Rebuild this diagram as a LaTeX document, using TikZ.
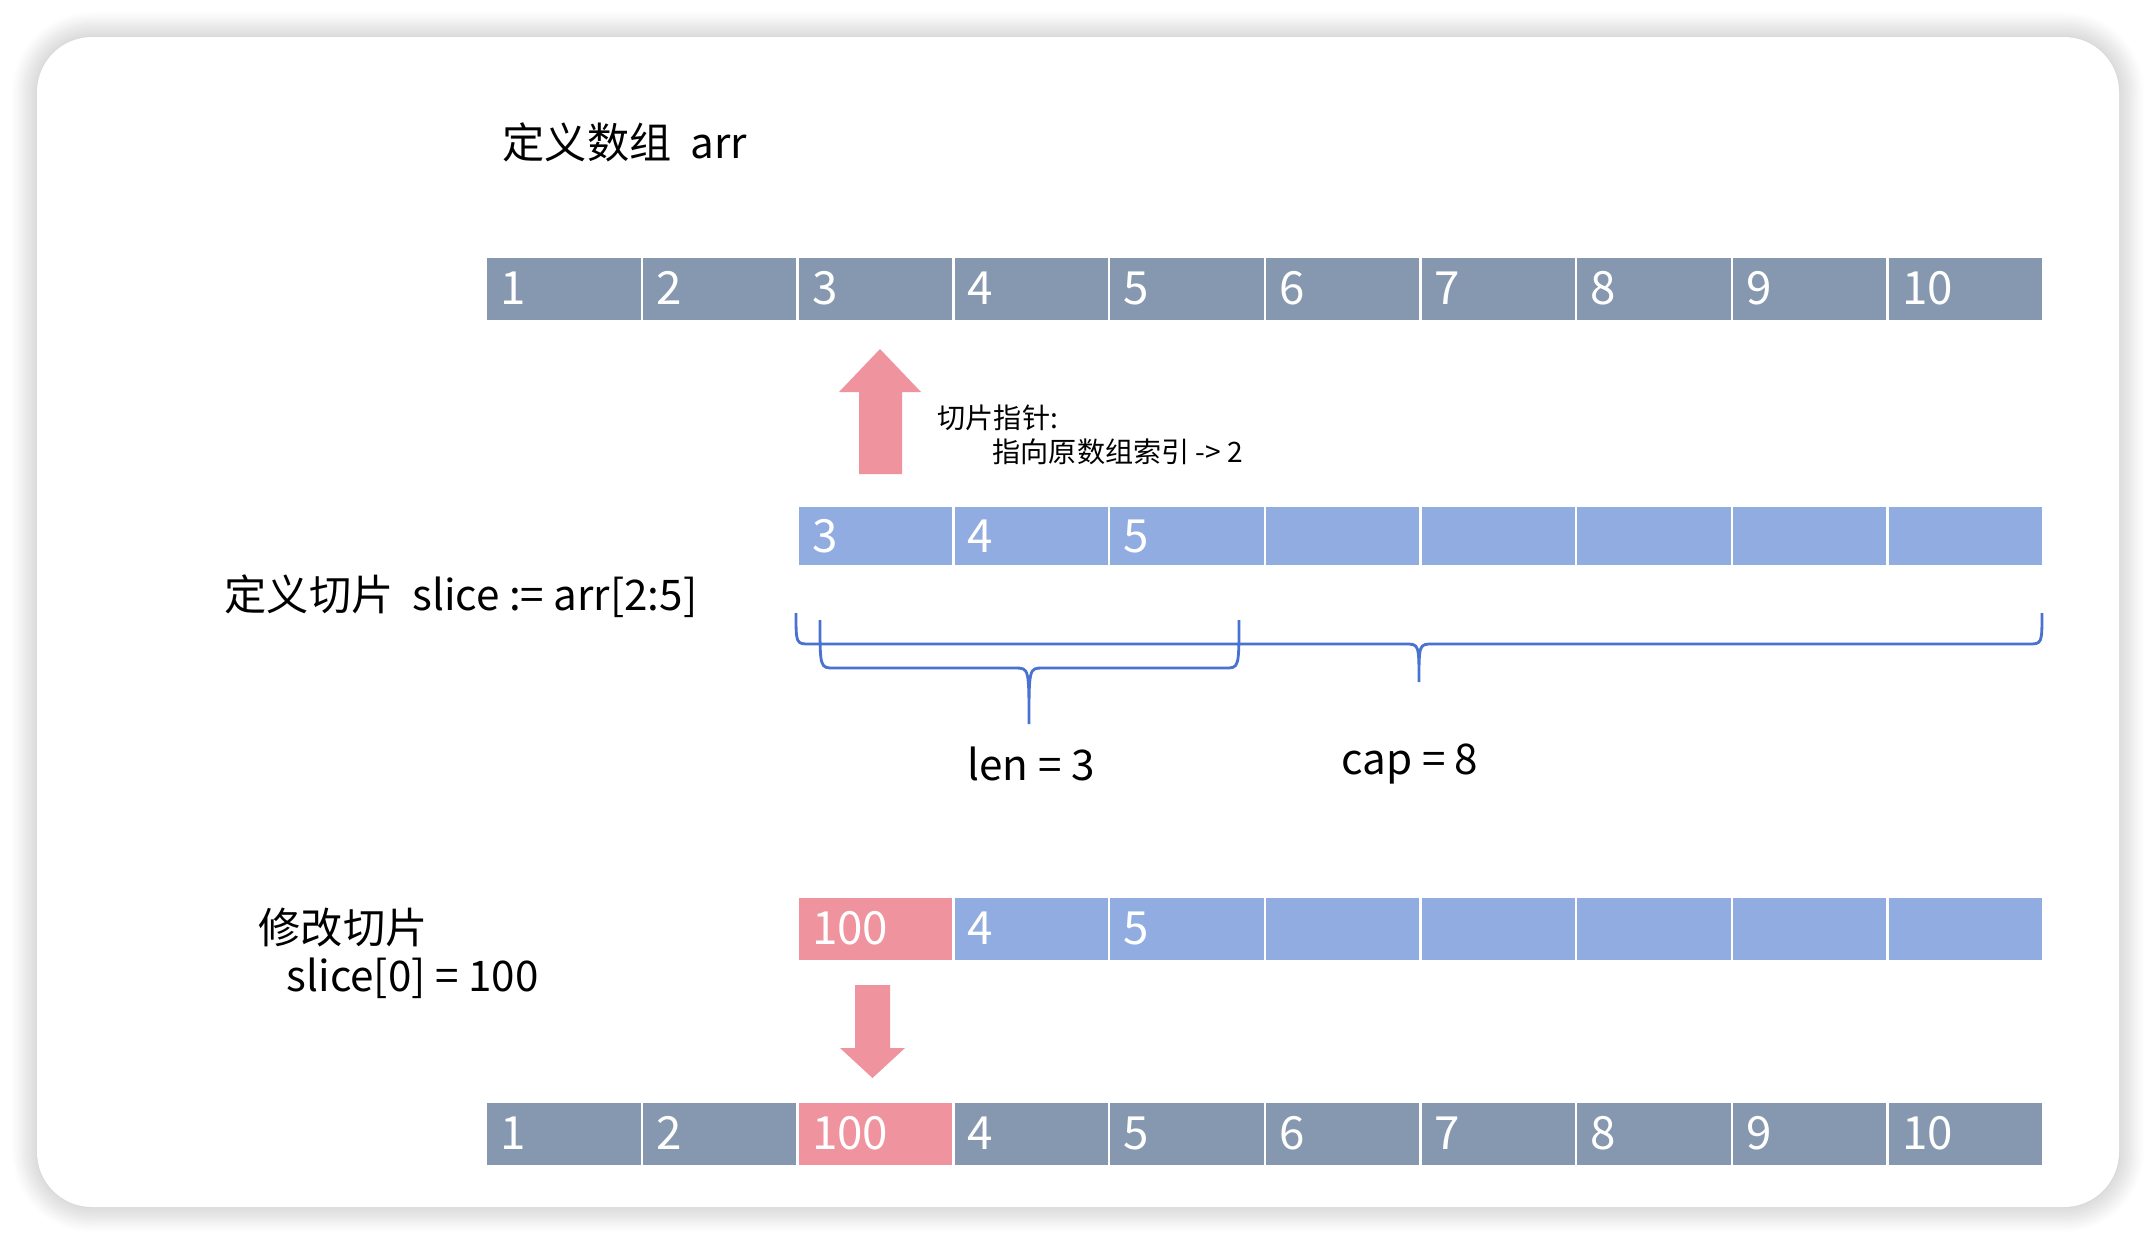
\documentclass[tikz,border=0pt]{standalone}
\usepackage{fontspec}
\setmainfont{Noto Sans CJK SC}
\usetikzlibrary{shadows.blur}
\definecolor{arrg}{HTML}{8598B0}
\definecolor{slb}{HTML}{91ACE0}
\definecolor{pk}{HTML}{EF949E}
\definecolor{brb}{HTML}{4A72D0}
\tikzset{
 cell/.style={fill=#1, draw=white, line width=0.7pt, minimum width=1.557cm, minimum height=0.64cm, inner sep=0, anchor=north west, text=white, font=\fontsize{13}{15}\selectfont},
 num/.style={text=white, anchor=west, inner sep=0, font=\fontsize{13}{15}\selectfont},
 lbl/.style={anchor=west, inner sep=0, font=\fontsize{12}{14}\selectfont},
 small/.style={anchor=west, inner sep=0, font=\fontsize{8}{10}\selectfont},
 brace/.style={draw=brb, line width=0.8pt}
}
\begin{document}
\begin{tikzpicture}[x=0.01cm,y=-0.01cm]
\useasboundingbox (0,0) rectangle (2156,1244);
\fill[white, rounded corners=0.55cm, blur shadow={shadow blur steps=12, shadow xshift=0pt, shadow yshift=0pt, shadow blur radius=0.25cm, shadow opacity=30}] (37,37) rectangle (2119,1207);
\node[lbl] (t1) at (502,142) {定义数组\ \ arr};
% top row
\foreach \i in {1,...,10} {
  \node[cell=arrg, minimum height=0.64cm] (a\i) at ({485+155.7*(\i-1)},256) {};
  \node[num] (an\i) at ({485+155.7*(\i-1)+15},288) {\i};
}
% slice row
\foreach \i/\t in {1/3,2/4,3/5,4/,5/,6/,7/,8/} {
  \node[cell=slb, minimum height=0.6cm] (s\i) at ({796.4+155.7*(\i-1)},505) {};
  \node[num] (sn\i) at ({796.4+155.7*(\i-1)+15},536) {\t};
}
% modified row
\foreach \i/\t/\c in {1/100/pk,2/4/slb,3/5/slb,4//slb,5//slb,6//slb,7//slb,8//slb} {
  \node[cell=\c] (m\i) at ({796.4+155.7*(\i-1)},896) {};
  \node[num] (mn\i) at ({796.4+155.7*(\i-1)+15},928) {\t};
}
% bottom row
\foreach \i/\t/\c in {1/1/arrg,2/2/arrg,3/100/pk,4/4/arrg,5/5/arrg,6/6/arrg,7/7/arrg,8/8/arrg,9/9/arrg,10/10/arrg} {
  \node[cell=\c] (b\i) at ({485+155.7*(\i-1)},1101) {};
  \node[num] (bn\i) at ({485+155.7*(\i-1)+15},1133) {\t};
}
% up arrow
\fill[pk] (859,474) -- (859,392) -- (839,392) -- (880,349) -- (921,392) -- (902,392) -- (902,474) -- cycle;
\node[small] (p1) at (937,418) {切片指针:};
\node[small] (p2) at (992,452) {指向原数组索引 -> 2};
% down arrow
\fill[pk] (855,985) -- (890,985) -- (890,1048) -- (905,1048) -- (872.5,1078) -- (840,1048) -- (855,1048) -- cycle;
\node[lbl] (t2) at (224,596) {定义切片\ \ slice := arr[2:5]};
\node[lbl] (t3) at (258,928) {修改切片};
\node[lbl] (t4) at (286,978) {slice[0] = 100};
% cap brace
\draw[brace] (796,613) .. controls (796,644) .. (810,644) -- (1405,644) .. controls (1419,644) .. (1419,682)
  .. controls (1419,644) .. (1433,644) -- (2028,644) .. controls (2042,644) .. (2042,613);
% len brace
\draw[brace] (820,620) .. controls (820,668) .. (834,668) -- (1015,668) .. controls (1029,668) .. (1029,724)
  .. controls (1029,668) .. (1043,668) -- (1225,668) .. controls (1239,668) .. (1239,620);
\node[lbl, anchor=center] (len) at (1031,764) {len = 3};
\node[lbl, anchor=center] (cap) at (1410,764) {cap = 8};
\end{tikzpicture}
\end{document}
